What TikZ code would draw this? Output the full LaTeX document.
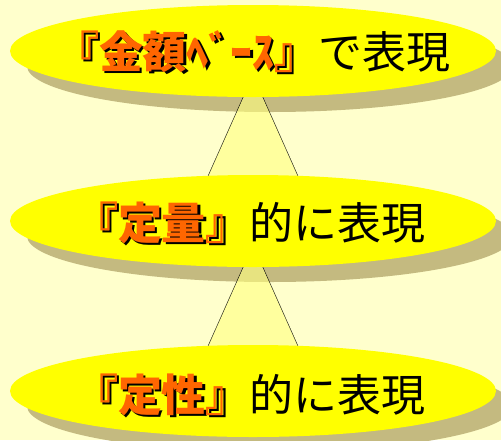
\documentclass[tikz,border=0pt]{standalone}
\usepackage{fontspec}
\newfontfamily\jp{Noto Sans CJK JP}
\usetikzlibrary{shapes.geometric,positioning}

\definecolor{haikei}{RGB}{255,255,204}
\definecolor{kiiro}{RGB}{255,255,0}
\definecolor{kage}{RGB}{196,186,128}
\definecolor{daidai}{RGB}{255,102,0}
\definecolor{usuki}{RGB}{255,255,128}

\newcommand{\kyocho}[1]{{\bfseries\makebox[0pt][l]{\hspace{2pt}\raisebox{-2pt}{\color{black}#1}}\color{daidai}#1}}

\tikzset{
  dai/.style={ellipse, fill=kiiro, minimum width=486pt, minimum height=92pt, inner sep=0pt},
  daikage/.style={dai, fill=kage},
  hashi/.style={fill=usuki, fill opacity=0.6},
  moji/.style={font=\jp\fontsize{44pt}{48pt}\selectfont, inner sep=0pt}
}

\begin{document}
\begin{tikzpicture}[x=1pt,y=-1pt]
   \fill[haikei] (0,0) rectangle (501,440);
   \useasboundingbox (0,0) rectangle (501,440);
   \coordinate (c1) at (253,51);
   \coordinate (c2) at (253,221);
   \coordinate (c3) at (253,391);
   % shadows
   \node[daikage] (s1) at ([xshift=17pt,yshift=-15pt]c1) {};
   \node[daikage] (s2) at ([xshift=17pt,yshift=-15pt]c2) {};
   \node[daikage] (s3) at ([xshift=17pt,yshift=-15pt]c3) {};
   % cones between levels
   \foreach \a/\b in {c1/c2, c2/c3} {
     \fill[hashi] ([yshift=-24pt]\a) -- ([xshift=-65pt]\b) -- ([xshift=65pt]\b) -- cycle;
     \draw ([xshift=-65pt]\b) -- ([yshift=-24pt]\a) -- ([xshift=65pt]\b);
   }
   % levels
   \node[dai] (e1) at (c1) {};
   \node[dai] (e2) at (c2) {};
   \node[dai] (e3) at (c3) {};
   \node[moji] (t1) at ([xshift=0pt,yshift=-2pt]e1.center) {\kyocho{『金額ﾍﾞｰｽ』}で表現};
   \node[moji] (t2) at ([xshift=-3pt,yshift=-3pt]e2.center) {\kyocho{『定量』}的に表現};
   \node[moji] (t3) at ([xshift=-3pt,yshift=-5pt]e3.center) {\kyocho{『定性』}的に表現};
\end{tikzpicture}
\end{document}
